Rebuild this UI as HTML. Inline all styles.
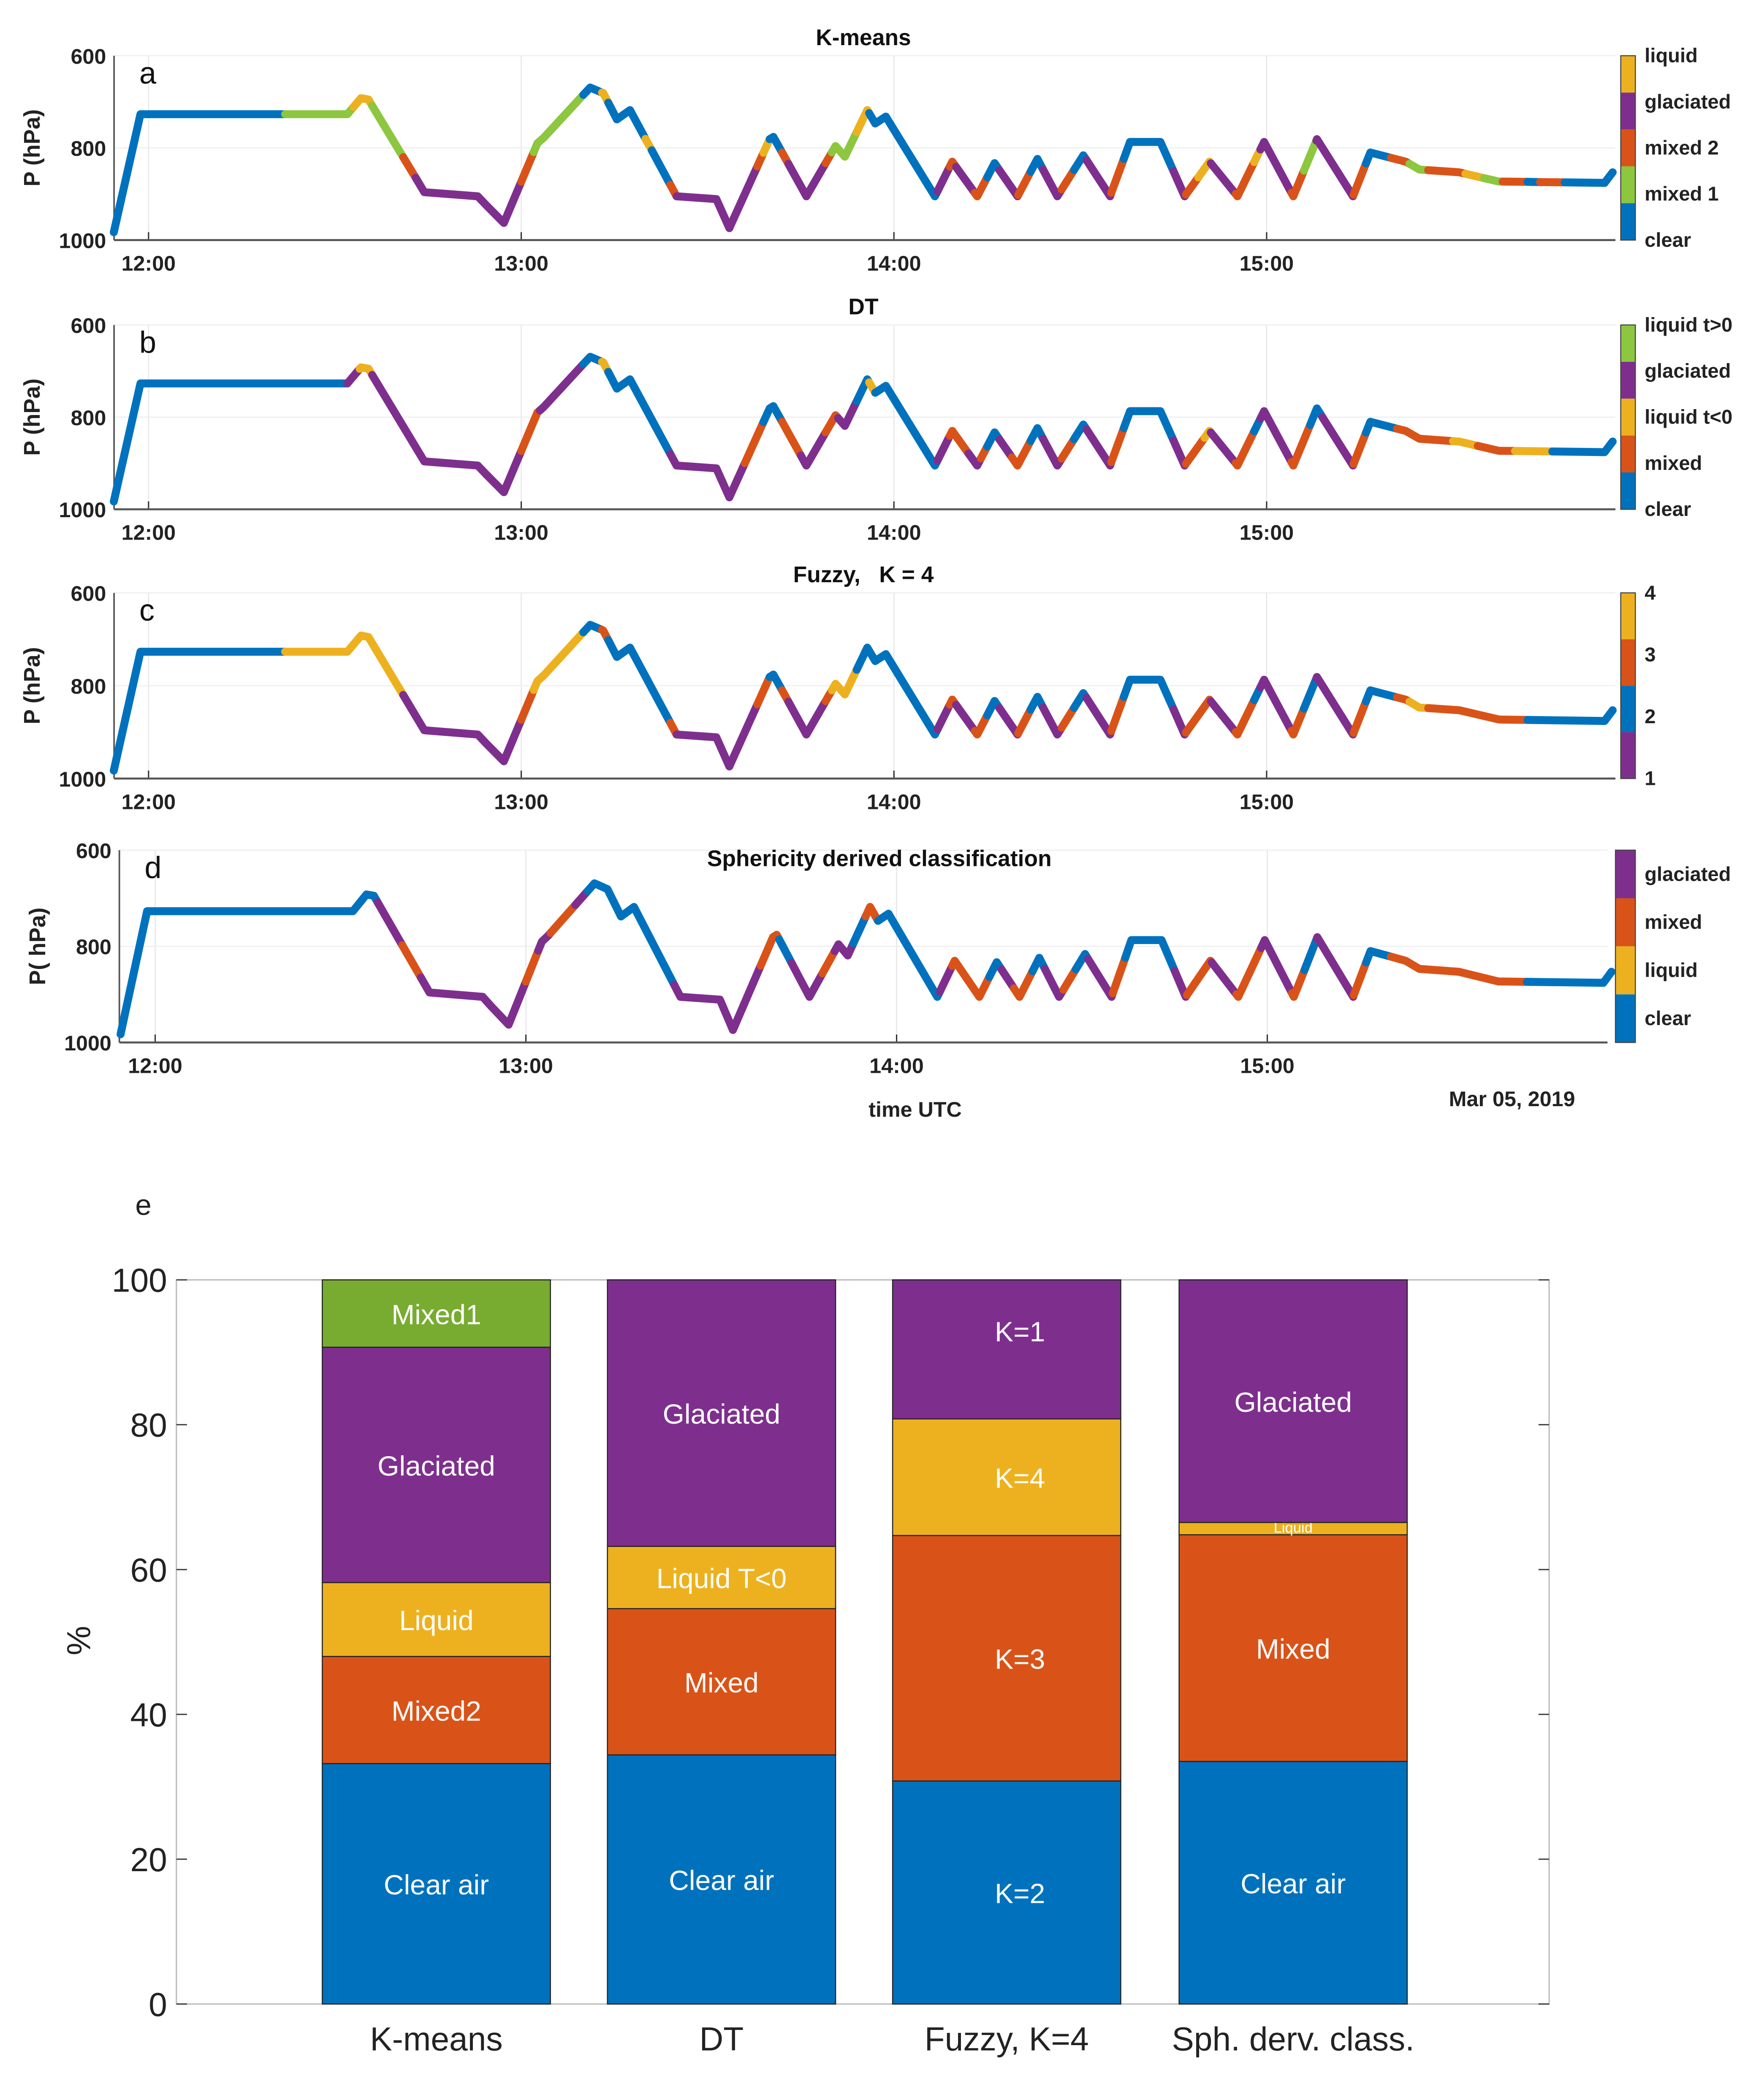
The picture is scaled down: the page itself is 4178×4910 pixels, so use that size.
<!DOCTYPE html>
<html><head><meta charset="utf-8"><style>
html,body{margin:0;padding:0;background:#fff}
svg{display:block}
text{font-family:"Liberation Sans",Arial,sans-serif}
.b{font-weight:bold}
</style></head><body>
<svg id="fig" xmlns="http://www.w3.org/2000/svg" width="4178" height="4910" viewBox="0 0 1330 1563">
<rect width="1330" height="1563" fill="#fff"/>
<g id="lines"></g>
<g id="bars"></g>
</svg>
<script>
// ---- flight pressure trace (minutes since 12:00 UTC, hPa)
const traceMin = [-5.6,-1.3,32.0,34.2,35.4,44.4,53.0,54.4,57.2,62.6,63.6,71.1,73.2,75.4,77.5,85.0,91.4,93.5,100.0,100.6,105.9,110.6,112.1,115.7,117.0,118.7,126.6,129.4,133.4,136.2,139.9,143.1,146.3,150.5,154.8,158.0,162.9,166.8,170.8,175.3,179.6,184.3,188.1,193.9,196.7,202.4,204.6,211.0,217.4,234.4,235.7];
const traceP = [983,727,727,692,695,896,905,925,963,790,778,669,681,738,718,905,911,974,781,776,905,796,819,718,747,732,905,830,905,833,905,824,905,816,905,787,787,905,830,905,787,905,781,905,810,830,847,853,873,876,853];
// ---- classification segments [start minute, class]
const segA = [[-6,'B'],[22,'G'],[33,'Y'],[36,'G'],[41,'O'],[43,'P'],[60,'O'],[62,'G'],[70,'B'],[73,'Y'],[74,'B'],[80,'Y'],[81,'B'],[84,'O'],[85,'P'],[98,'O'],[99,'Y'],[100,'B'],[102,'O'],[103,'P'],[109,'O'],[110,'G'],[114,'Y'],[116,'B'],[127,'P'],[129,'O'],[130,'P'],[133,'O'],[135,'B'],[137,'P'],[140,'O'],[142,'B'],[144,'P'],[147,'O'],[149,'B'],[151,'P'],[155,'O'],[157,'B'],[165,'P'],[167,'O'],[169,'Y'],[171,'P'],[175,'O'],[178,'Y'],[179,'P'],[184,'O'],[186,'G'],[188,'P'],[194,'O'],[196,'B'],[200,'O'],[203,'G'],[206,'O'],[212,'Y'],[215,'G'],[218,'O'],[222,'B'],[224,'O'],[228,'B']];
const segB = [[-6,'B'],[32,'P'],[34,'Y'],[36,'P'],[60,'O'],[63,'P'],[70,'B'],[73,'Y'],[74,'B'],[84,'P'],[96,'O'],[99,'B'],[102,'O'],[105,'P'],[109,'O'],[111,'P'],[114,'B'],[116,'Y'],[117,'B'],[127,'P'],[129,'O'],[132,'P'],[134,'O'],[135,'B'],[137,'P'],[139,'O'],[142,'B'],[144,'P'],[147,'O'],[149,'B'],[151,'P'],[155,'O'],[157,'B'],[165,'P'],[167,'O'],[170,'Y'],[171,'P'],[175,'O'],[178,'B'],[179,'P'],[184,'O'],[187,'B'],[189,'P'],[194,'O'],[196,'B'],[201,'O'],[210,'Y'],[214,'O'],[220,'Y'],[226,'B']];
const segC = [[-6,'B'],[22,'Y'],[41,'P'],[60,'O'],[62,'Y'],[70,'B'],[73,'O'],[74,'B'],[84,'O'],[85,'P'],[98,'O'],[100,'B'],[102,'O'],[103,'P'],[109,'O'],[110,'Y'],[114,'B'],[127,'P'],[129,'O'],[130,'P'],[133,'O'],[135,'B'],[137,'P'],[140,'O'],[142,'B'],[144,'P'],[147,'O'],[149,'B'],[151,'P'],[155,'O'],[157,'B'],[165,'P'],[167,'O'],[171,'P'],[175,'O'],[178,'B'],[179,'P'],[184,'O'],[186,'B'],[188,'P'],[194,'O'],[196,'B'],[201,'O'],[203,'Y'],[206,'O'],[222,'B']];
const segD = [[-6,'B'],[36,'P'],[40,'O'],[43,'P'],[60,'O'],[62,'P'],[64,'O'],[68,'P'],[70,'B'],[84,'P'],[98,'O'],[101,'B'],[103,'P'],[108,'O'],[110,'P'],[113,'B'],[115,'O'],[117,'B'],[127,'P'],[129,'O'],[135,'B'],[137,'P'],[139,'O'],[142,'B'],[144,'P'],[147,'O'],[149,'B'],[151,'P'],[155,'O'],[157,'B'],[165,'P'],[167,'O'],[171,'P'],[175,'O'],[179,'P'],[184,'O'],[186,'B'],[188,'P'],[194,'O'],[196,'B'],[200,'O'],[222,'B']];
const timeTicks = ['12:00','13:00','14:00','15:00'];
const pTicks = [600,800,1000];
// ---- bar chart data (%)
const barCats = ['K-means','DT','Fuzzy, K=4','Sph. derv. class.'];
const barVals = [[33.2,14.8,10.2,32.5,9.3],[34.4,20.2,8.6,36.8],[30.8,33.9,16.1,19.2],[33.5,31.3,1.7,33.5]];
const barLabels = [['Clear air','Mixed2','Liquid','Glaciated','Mixed1'],['Clear air','Mixed','Liquid T<0','Glaciated'],['K=2','K=3','K=4','K=1'],['Clear air','Mixed','Liquid','Glaciated']];
const barClasses = [['B','O','Y','P','G2'],['B','O','Y','P'],['B','O','Y','P'],['B','O','Y','P']];
const yTicksBar = [0,20,40,60,80,100];

const COL={B:'#0072BD',O:'#D95319',Y:'#EDB120',P:'#7E2F8E',G:'#8DC63F',G2:'#77AC30'};
const NS='http://www.w3.org/2000/svg';
function mk(tag,attrs,parent,txt){const e=document.createElementNS(NS,tag);for(const k in attrs)e.setAttribute(k,attrs[k]);if(txt!==undefined)e.textContent=txt;parent.appendChild(e);return e;}
function pAt(m){if(m<=traceMin[0])return traceP[0];for(let i=1;i<traceMin.length;i++){if(m<=traceMin[i]){const t=(m-traceMin[i-1])/(traceMin[i]-traceMin[i-1]);return traceP[i-1]+t*(traceP[i]-traceP[i-1]);}}return traceP[traceP.length-1];}

const panels=[
 {id:'a',seg:segA,x0:86,x1:1218,y0:42,y1:181,t12:112,pph:281,title:'K-means',tx:651,ty:34,ylab:'P (hPa)',cb:{x:1222,w:11,cols:['Y','P','O','G','B'],labs:['liquid','glaciated','mixed 2','mixed 1','clear'],edge:true}},
 {id:'b',seg:segB,x0:86,x1:1218,y0:245,y1:384,t12:112,pph:281,title:'DT',tx:651,ty:237,ylab:'P (hPa)',cb:{x:1222,w:11,cols:['G','P','Y','O','B'],labs:['liquid t>0','glaciated','liquid t<0','mixed','clear'],edge:true}},
 {id:'c',seg:segC,x0:86,x1:1218,y0:447,y1:587,t12:112,pph:281,title:'Fuzzy,\u00a0\u00a0\u00a0K = 4',tx:651,ty:439,ylab:'P (hPa)',cb:{x:1222,w:11,cols:['Y','O','B','P'],labs:['4','3','2','1'],edge:true}},
 {id:'d',seg:segD,x0:90,x1:1212,y0:641,y1:786,t12:117,pph:279.5,title:'Sphericity derived classification',tx:663,ty:653,ylab:'P( hPa)',cb:{x:1218,w:15,cols:['P','O','Y','B'],labs:['glaciated','mixed','liquid','clear'],edge:false}}
];
const LG=document.getElementById('lines');
panels.forEach(pn=>{
  const g=mk('g',{},LG);
  
  
  const X=m=>pn.t12+m/60*pn.pph, Y=p=>pn.y0+(p-600)/400*(pn.y1-pn.y0);
  timeTicks.forEach((t,i)=>{const x=X(i*60);mk('line',{x1:x,x2:x,y1:pn.y0,y2:pn.y1,stroke:'#e6e6e6','stroke-width':0.8},g);
    const tl=mk('text',{x:x,y:pn.y1+23,'text-anchor':'middle','font-size':16,class:'b',fill:'#222'},g,t);
    
    mk('line',{x1:x,x2:x,y1:pn.y1,y2:pn.y1-6,stroke:'#333','stroke-width':1},g);});
  mk('line',{x1:pn.x0,x2:pn.x1,y1:(pn.y0+pn.y1)/2,y2:(pn.y0+pn.y1)/2,stroke:'#eee','stroke-width':0.8},g);
  mk('line',{x1:pn.x0,x2:pn.x1,y1:pn.y0,y2:pn.y0,stroke:'#eee','stroke-width':0.8},g);
  mk('line',{x1:pn.x0,x2:pn.x1,y1:pn.y1,y2:pn.y1,stroke:'#555','stroke-width':1.5},g);
  mk('line',{x1:pn.x0,x2:pn.x0,y1:pn.y0,y2:pn.y1,stroke:'#555','stroke-width':1.2},g);
  pTicks.forEach(p=>{const y=Y(p);const tl=mk('text',{x:pn.x0-6,y:y+6,'text-anchor':'end','font-size':16,class:'b',fill:'#222'},g,String(p));
    });
  const yl=mk('text',{x:0,y:0,transform:`translate(${pn.x0-56},${(pn.y0+pn.y1)/2}) rotate(-90)`,'text-anchor':'middle','font-size':17,class:'b',fill:'#222'},g,pn.ylab);
  
  const ti=mk('text',{x:pn.tx,y:pn.ty,'text-anchor':'middle','font-size':17,class:'b',fill:'#111'},g,pn.title);
  
  const le=mk('text',{x:pn.x0+19,y:pn.y0+21,'font-size':23,fill:'#111'},g,pn.id);
  
  const tg=mk('g',{fill:'none','stroke-width':6,'stroke-linecap':'round','stroke-linejoin':'round'},g);
  
  const tEnd=traceMin[traceMin.length-1];
  pn.seg.forEach((s,i)=>{
    const a=Math.max(s[0],traceMin[0]), b=i<pn.seg.length-1?pn.seg[i+1][0]:tEnd;
    const ms=[a];traceMin.forEach(m=>{if(m>a&&m<b)ms.push(m);});ms.push(b);
    const pts=ms.map(m=>X(m).toFixed(1)+','+Y(pAt(m)).toFixed(1)).join(' ');
    const pl=mk('polyline',{points:pts,stroke:COL[s[1]]},tg);
    
  });
  const cb=pn.cb,n=cb.cols.length,h=(pn.y1-pn.y0)/n;
  const cg=mk('g',{},g);
  cb.cols.forEach((c,i)=>{mk('rect',{x:cb.x,y:pn.y0+i*h,width:cb.w,height:h,fill:COL[c]},cg);});
  mk('rect',{x:cb.x,y:pn.y0,width:cb.w,height:pn.y1-pn.y0,fill:'none',stroke:'#444','stroke-width':0.8},cg);
  cb.labs.forEach((l,i)=>{let y;
    if(cb.edge){y=pn.y0+i*(pn.y1-pn.y0)/(n-1);} else {y=pn.y0+(i+0.5)*h;}
    const t=mk('text',{x:cb.x+cb.w+7,y:y+5,'font-size':15,class:'b',fill:'#222'},cg,l);
    });
});
let t=mk('text',{x:690,y:842,'text-anchor':'middle','font-size':16,class:'b',fill:'#222'},LG,'time UTC');

t=mk('text',{x:1140,y:834,'text-anchor':'middle','font-size':16,class:'b',fill:'#222'},LG,'Mar 05, 2019');


const BG=document.getElementById('bars');
const bx0=133,bx1=1168,by0=965,by1=1511;
const BY=v=>by1-v/100*(by1-by0);
const barLeft=[243,458,673,889],bw=172;
mk('rect',{x:bx0,y:by0,width:bx1-bx0,height:by1-by0,fill:'none',stroke:'#bbb','stroke-width':1},BG);
yTicksBar.forEach(v=>{const y=BY(v);
  mk('line',{x1:bx0,x2:bx0+8,y1:y,y2:y,stroke:'#444'},BG);mk('line',{x1:bx1,x2:bx1-8,y1:y,y2:y,stroke:'#444'},BG);
  const tl=mk('text',{x:bx0-7,y:y+9,'text-anchor':'end','font-size':25,fill:'#222'},BG,String(v));
  });
t=mk('text',{x:0,y:0,transform:`translate(68,1237) rotate(-90)`,'text-anchor':'middle','font-size':25,fill:'#222'},BG,'%');

t=mk('text',{x:102,y:916,'font-size':22,fill:'#222'},BG,'e');

barVals.forEach((vals,ci)=>{
  const g=mk('g',{},BG);
  let cum=0;
  vals.forEach((v,k)=>{const yT=BY(cum+v),yB=BY(cum);
    const r=mk('rect',{x:barLeft[ci],y:yT,width:bw,height:yB-yT,fill:COL[barClasses[ci][k]],stroke:'#222','stroke-width':0.8},g);
    
    const small=v<4;
    const off=ci===2?10:0, dy=(ci===2&&k===3)?-14:0;
    const tl=mk('text',{x:barLeft[ci]+bw/2+off,y:(yT+yB)/2+(small?3:8)+dy,'text-anchor':'middle','font-size':small?11:21,fill:'#fff'},g,barLabels[ci][k]);
    
    cum+=v;});
  const cl=mk('text',{x:barLeft[ci]+bw/2,y:1546,'text-anchor':'middle','font-size':25,fill:'#222'},g,barCats[ci]);
  
});
</script>
</body></html>
